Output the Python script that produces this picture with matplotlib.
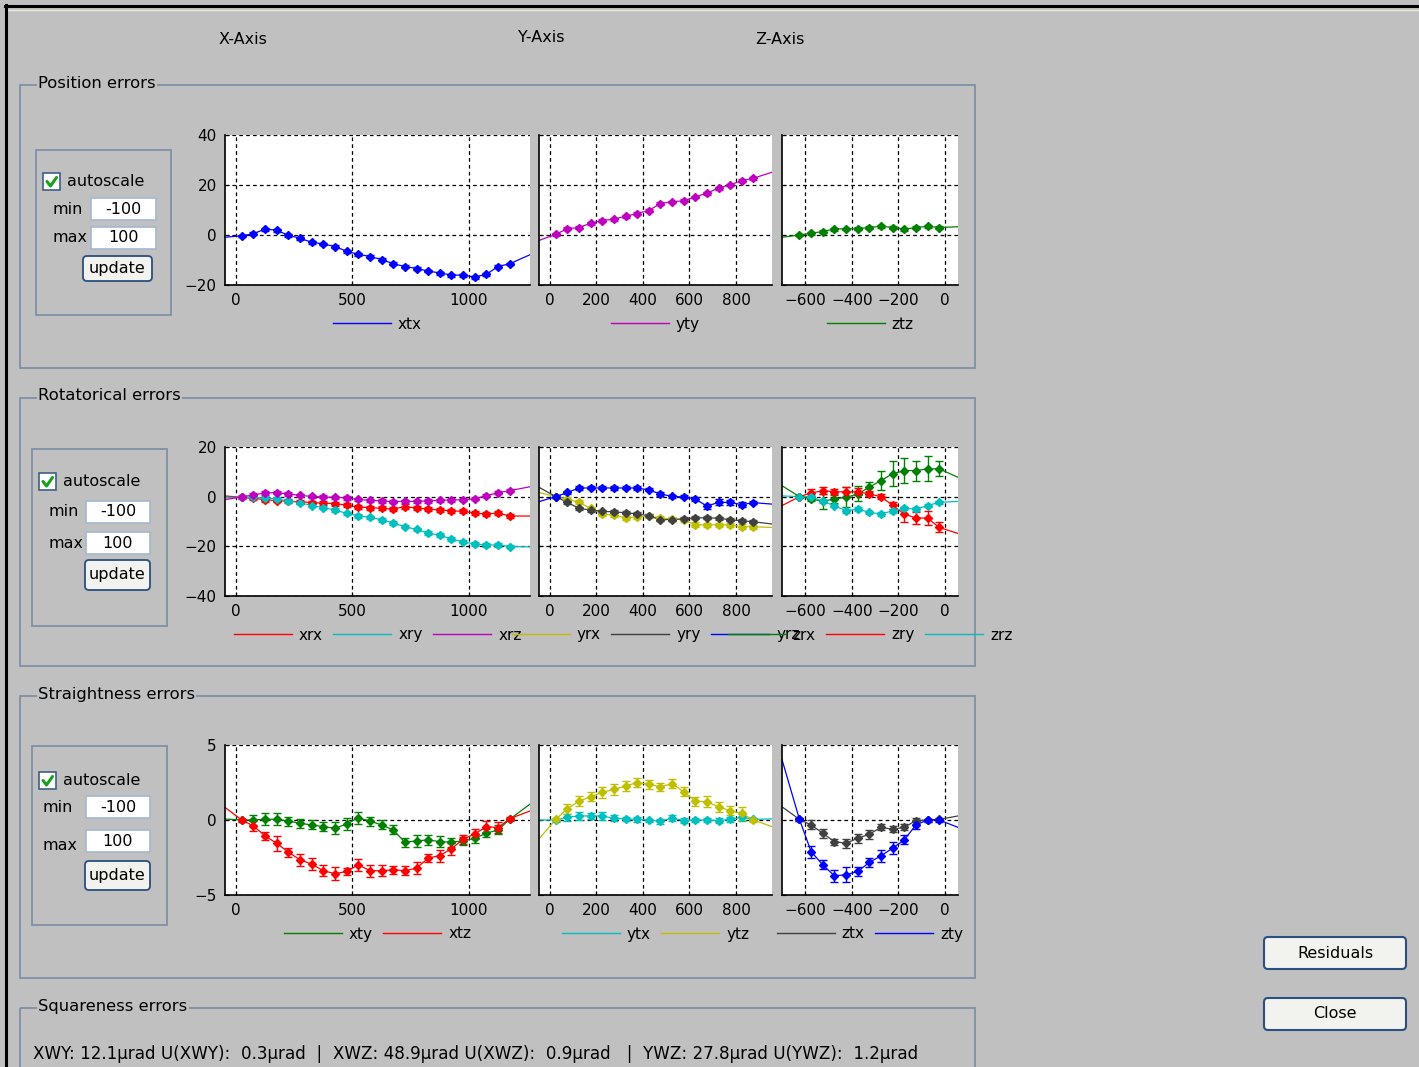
import matplotlib
matplotlib.use('Agg')
import matplotlib.pyplot as plt
from matplotlib.patches import Rectangle, FancyBboxPatch
from matplotlib.lines import Line2D

plt.rcParams['font.family'] = ['DejaVu Sans']

W, H = 1419, 1067
GUI_BG = '#c0c0c0'
FRAME = '#8090a8'

BLUE = '#0000ff'
MAG = '#bf00bf'
GREEN = '#008000'
RED = '#ff0000'
CYAN = '#00bfbf'
YEL = '#bfbf00'
DGRAY = '#404040'

# measurement positions (mm)
x_pos = [25, 75, 125, 175, 225, 275, 325, 375, 425, 475, 525, 575,
         625, 675, 725, 775, 825, 875, 925, 975, 1025, 1075, 1125, 1175]
y_pos = [25, 75, 125, 175, 225, 275, 325, 375, 425, 475, 525, 575,
         625, 675, 725, 775, 825, 875]
z_pos = [-625, -575, -525, -475, -425, -375, -325, -275, -225, -175, -125, -75, -25]

xlim_x = (-47, 1262)
xlim_y = (-47, 955)
xlim_z = (-700, 56)
xticks_x = [0, 500, 1000]
xticks_y = [0, 200, 400, 600, 800]
xticks_z = [-600, -400, -200, 0]

# ---- position errors (um)
xtx = [-0.3, 0.5, 2.4, 1.9, -0.1, -1.3, -2.9, -3.6, -4.6, -6.5, -7.7, -8.6,
       -9.8, -11.5, -12.6, -13.4, -14.4, -15.2, -16.0, -16.1, -16.8, -15.7, -12.6, -11.5]
xtx_err = [0.5, 0.6, 0.6, 0.5, 0.5, 0.6, 0.6, 0.5, 0.6, 0.6, 0.6, 0.5,
           0.6, 0.6, 0.5, 0.6, 0.5, 0.6, 0.6, 0.5, 0.6, 0.6, 0.6, 0.5]
xtx_end = (-0.9, -7.9)
yty = [0.3, 2.5, 3.0, 4.7, 5.8, 6.3, 7.5, 8.6, 9.8, 12.6, 13.3, 13.7,
       15.3, 16.7, 18.8, 20.1, 21.7, 22.7]
yty_err = [0.6, 0.6, 0.5, 0.6, 0.6, 0.5, 0.6, 0.6, 0.6, 0.6, 0.5, 0.6,
           0.5, 0.6, 0.6, 0.5, 0.6, 0.6]
yty_end = (-2.2, 25.1)
ztz = [0.0, 0.7, 1.4, 2.4, 2.5, 2.5, 3.0, 3.5, 3.0, 2.4, 2.9, 3.5, 3.0]
ztz_err = [0.5, 0.6, 0.6, 0.6, 0.5, 0.6, 0.6, 0.6, 0.5, 0.6, 0.6, 0.6, 0.5]
ztz_end = (-0.9, 3.3)

# ---- rotatorical errors (urad)
xrx = [-0.3, -0.7, -1.2, -1.6, -1.9, -2.0, -2.4, -2.6, -2.8, -3.4, -4.2, -4.4,
       -4.7, -5.0, -4.0, -4.6, -5.0, -5.4, -5.7, -5.9, -6.6, -7.0, -6.6, -7.8]
xrx_err = [0.6, 0.8, 0.8, 0.7, 0.8, 0.8, 0.7, 0.8, 0.8, 0.8, 0.9, 0.8,
           0.8, 0.8, 0.9, 0.8, 0.8, 0.9, 0.8, 0.8, 0.9, 0.8, 0.9, 0.8]
xrx_end = (0.3, -7.8)
xry = [-0.3, -0.3, -0.5, -0.9, -1.7, -2.4, -3.6, -4.4, -5.4, -6.7, -7.7, -8.3,
       -9.3, -10.6, -12.1, -13.2, -14.7, -15.5, -17.1, -18.2, -19.0, -19.5, -19.4, -20.1]
xry_err = [0.6, 0.7, 0.7, 0.6, 0.7, 0.7, 0.7, 0.6, 0.7, 0.7, 0.7, 0.6,
           0.7, 0.7, 0.7, 0.6, 0.7, 0.7, 0.7, 0.6, 0.7, 0.7, 0.7, 0.6]
xry_end = (-0.3, -20.2)
xrz = [-0.1, 0.7, 1.5, 1.6, 1.1, 0.5, 0.1, -0.1, -0.3, -0.5, -1.1, -1.5,
       -1.7, -2.0, -1.9, -1.9, -1.7, -1.5, -1.3, -1.3, -0.8, 0.4, 1.6, 2.4]
xrz_err = [0.6, 0.7, 0.7, 0.6, 0.7, 0.7, 0.7, 0.6, 0.7, 0.7, 0.7, 0.6,
           0.7, 0.7, 0.7, 0.6, 0.7, 0.7, 0.7, 0.6, 0.7, 0.7, 0.7, 0.6]
xrz_end = (-1.2, 4.0)

yrx = [0.0, -0.9, -2.3, -4.7, -7.0, -7.5, -8.5, -8.2, -7.8, -8.6, -9.0, -9.4,
       -11.3, -11.4, -11.3, -11.4, -12.1, -12.1]
yrx_err = [0.5, 0.8, 0.8, 0.7, 0.8, 0.8, 0.9, 0.8, 0.7, 0.8, 0.8, 0.8,
           0.9, 0.8, 0.8, 0.8, 0.9, 0.8]
yrx_end = (1.7, -12.4)
yry = [0.0, -2.3, -4.7, -5.4, -5.9, -6.1, -6.5, -6.9, -7.7, -9.3, -9.2, -8.9,
       -8.5, -8.5, -8.7, -9.3, -9.7, -10.1]
yry_err = [0.5, 0.6, 0.6, 0.6, 0.5, 0.6, 0.6, 0.6, 0.6, 0.5, 0.6, 0.6,
           0.6, 0.6, 0.5, 0.6, 0.6, 0.6]
yry_end = (3.8, -11.0)
yrz = [0.0, 1.7, 3.5, 3.5, 3.5, 3.5, 3.5, 3.5, 2.7, 1.1, 0.1, -0.1,
       -0.9, -3.8, -2.3, -2.3, -3.2, -2.4]
yrz_err = [0.5, 0.7, 0.7, 0.6, 0.6, 0.7, 0.6, 0.7, 0.6, 0.7, 0.6, 0.6,
           0.7, 1.0, 1.2, 0.9, 1.0, 0.7]
yrz_end = (-2.0, -3.0)

zrx = [0.0, -0.9, -1.9, -0.9, -0.3, 1.1, 3.8, 6.5, 9.2, 10.5, 10.5, 11.2, 11.2]
zrx_err = [0.5, 1.0, 3.0, 1.5, 4.0, 3.0, 2.0, 4.0, 5.0, 5.0, 4.0, 5.0, 3.0]
zrx_end = (4.4, 7.8)
zry = [0.0, 1.5, 2.4, 2.0, 1.9, 2.0, 1.1, 0.0, -3.5, -7.0, -8.6, -8.6, -12.4]
zry_err = [0.3, 1.5, 1.5, 1.0, 2.0, 1.5, 1.0, 1.0, 1.5, 3.0, 2.5, 3.0, 2.0]
zry_end = (-3.6, -14.8)
zrz = [0.0, 0.0, -1.9, -3.6, -5.7, -5.0, -6.3, -7.0, -5.7, -4.7, -5.0, -3.6, -2.3]
zrz_err = [0.4, 0.7, 0.7, 0.6, 0.7, 0.7, 0.6, 0.7, 0.7, 0.6, 0.7, 0.7, 0.6]
zrz_end = (0.3, -1.9)

# ---- straightness errors (um)
xty = [0.0, 0.0, 0.05, 0.05, -0.07, -0.22, -0.33, -0.44, -0.55, -0.27, 0.15, -0.07,
       -0.33, -0.66, -1.48, -1.39, -1.33, -1.44, -1.48, -1.39, -1.22, -0.88, -0.66, 0.05]
xty_err = [0.1, 0.35, 0.4, 0.4, 0.3, 0.3, 0.3, 0.3, 0.4, 0.4, 0.4, 0.3,
           0.3, 0.3, 0.3, 0.4, 0.35, 0.35, 0.3, 0.25, 0.3, 0.25, 0.3, 0.1]
xty_end = (0.07, 1.06)
xtz = [0.0, -0.4, -1.06, -1.55, -2.15, -2.65, -2.94, -3.38, -3.58, -3.43, -2.99, -3.38,
       -3.38, -3.32, -3.38, -3.21, -2.54, -2.37, -1.92, -1.28, -0.93, -0.44, -0.51, 0.09]
xtz_err = [0.1, 0.35, 0.25, 0.5, 0.3, 0.4, 0.4, 0.35, 0.45, 0.25, 0.4, 0.4,
           0.35, 0.25, 0.3, 0.4, 0.25, 0.4, 0.4, 0.3, 0.35, 0.35, 0.35, 0.1]
xtz_end = (0.84, 0.6)

ytx = [0.0, 0.18, 0.27, 0.27, 0.27, 0.11, 0.07, 0.04, 0.0, -0.09, 0.13, -0.04,
       0.0, 0.0, -0.04, 0.04, 0.18, 0.04]
ytx_err = [0.1, 0.25, 0.25, 0.2, 0.25, 0.2, 0.15, 0.15, 0.1, 0.15, 0.2, 0.15,
           0.15, 0.15, 0.15, 0.15, 0.25, 0.1]
ytx_end = (0.0, 0.07)
ytz = [0.04, 0.75, 1.26, 1.55, 1.84, 2.04, 2.26, 2.5, 2.39, 2.21, 2.43, 1.88,
       1.26, 1.22, 0.88, 0.62, 0.44, 0.0]
ytz_err = [0.1, 0.35, 0.35, 0.3, 0.35, 0.35, 0.35, 0.3, 0.3, 0.25, 0.3, 0.3,
           0.3, 0.35, 0.35, 0.3, 0.45, 0.15]
ytz_end = (-1.26, -0.44)

ztx = [0.04, -0.33, -0.88, -1.44, -1.55, -1.22, -0.95, -0.49, -0.62, -0.49, -0.04, 0.0, 0.04]
ztx_err = [0.1, 0.3, 0.3, 0.2, 0.3, 0.3, 0.3, 0.2, 0.2, 0.2, 0.2, 0.1, 0.1]
ztx_end = (0.88, 0.27)
zty = [0.04, -2.1, -2.99, -3.72, -3.65, -3.43, -2.83, -2.39, -1.88, -1.33, -0.33, 0.0, 0.0]
zty_err = [0.1, 0.4, 0.3, 0.4, 0.5, 0.3, 0.3, 0.4, 0.4, 0.3, 0.3, 0.1, 0.1]
zty_end = (4.03, -0.49)

squareness_text = ('XWY: 12.1\u00b5rad U(XWY):  0.3\u00b5rad  |  XWZ: 48.9\u00b5rad U(XWZ):  0.9\u00b5rad'
                   '   |  YWZ: 27.8\u00b5rad U(YWZ):  1.2\u00b5rad')


def px_rect(l, t, r, b):
    return [l / W, 1 - b / H, (r - l) / W, (b - t) / H]


def style_axes(ax, xlim, xticks, ylim, yticks, ylabels):
    ax.set_facecolor('white')
    ax.set_xlim(xlim)
    ax.set_ylim(ylim)
    ax.set_xticks(xticks)
    ax.set_yticks(yticks)
    if not ylabels:
        ax.set_yticklabels([])
    ax.grid(True, color='black', linestyle=(0, (3, 2.5)), linewidth=0.9)
    ax.spines['top'].set_visible(False)
    ax.spines['right'].set_visible(False)
    for s in ('left', 'bottom'):
        ax.spines[s].set_linewidth(1.2)
    ax.tick_params(direction='in', length=3, labelsize=11, pad=6)


def draw_series(ax, xs, ys, err, ends, xlim, color):
    ax.plot([xlim[0]] + xs + [xlim[1]], [ends[0]] + ys + [ends[1]], color=color, lw=0.9)
    ax.errorbar(xs, ys, yerr=err, fmt='D', ms=3.8, color=color, ecolor=color,
                elinewidth=1, capsize=3, capthick=1)


def add_legend(ax, names, colors, h_px):
    handles = [Line2D([], [], color=c, lw=1) for c in colors]
    ax.legend(handles, names, loc='center', bbox_to_anchor=(0.5, -39 / h_px),
              ncol=len(names), frameon=False, fontsize=11, handlelength=3.8,
              handletextpad=0.45, columnspacing=0.7, borderpad=0, borderaxespad=0)


fig = plt.figure(figsize=(W / 100, H / 100), dpi=100, facecolor=GUI_BG)

# ---------- GUI background layer (pixel coordinates)
bg = fig.add_axes([0, 0, 1, 1])
bg.set_xlim(0, W)
bg.set_ylim(H, 0)
bg.axis('off')
bg.set_zorder(0)

bg.plot([5, W], [6, 6], color='black', lw=2.2)
bg.plot([6, W], [9.5, 9.5], color='#ece9d8', lw=1)
bg.plot([6, 6], [5, H], color='black', lw=2.2)

for label, cx, cy in [('X-Axis', 243, 40), ('Y-Axis', 541, 37), ('Z-Axis', 780, 40)]:
    bg.text(cx, cy, label, ha='center', va='center', fontsize=11.5)

groups = [('Position errors', 85, 368), ('Rotatorical errors', 398, 666),
          ('Straightness errors', 696, 978), ('Squareness errors', 1008, 1100)]
for title, top, bottom in groups:
    bg.add_patch(Rectangle((20, top), 955, bottom - top, fill=False, ec=FRAME, lw=1.3))
    bg.text(38, top - 2, title, ha='left', va='center', fontsize=11.8,
            bbox=dict(fc=GUI_BG, ec='none', pad=1))

bg.text(33, 1054, squareness_text, ha='left', va='center', fontsize=12.1)

# autoscale panels: box, checkbox row, min row, max row, update button
panels = [
    dict(box=(36, 150, 171, 315), chk=(43, 173), lab=(53, 209, 237), fld=(91, 156, 198, 227),
         btn=(83, 256, 152, 281)),
    dict(box=(32, 449, 167, 626), chk=(39, 473), lab=(49, 512, 543), fld=(86, 150, 501, 532),
         btn=(85, 560, 150, 590)),
    dict(box=(32, 746, 167, 925), chk=(39, 772), lab=(43, 807, 845), fld=(86, 150, 796, 830),
         btn=(85, 861, 150, 890)),
]
for p in panels:
    l, t, r, b = p['box']
    bg.add_patch(Rectangle((l, t), r - l, b - t, fill=False, ec=FRAME, lw=1.3))
    cx, cy = p['chk']
    bg.add_patch(Rectangle((cx, cy), 17, 17, fc='white', ec='#3c5f8c', lw=1.2))
    bg.plot([cx + 4, cx + 7.5, cx + 13.5], [cy + 8.5, cy + 13, cy + 4.5], color='#1aa01a', lw=2.2,
            solid_capstyle='round')
    bg.text(cx + 24, cy + 8.5, 'autoscale', ha='left', va='center', fontsize=11.5)
    lx, ymin, ymax = p['lab']
    bg.text(lx, ymin, 'min', ha='left', va='center', fontsize=11.5)
    bg.text(lx, ymax, 'max', ha='left', va='center', fontsize=11.5)
    fl, fr, ft1, ft2 = p['fld']
    for ft, val in [(ft1, '-100'), (ft2, '100')]:
        bg.add_patch(Rectangle((fl, ft), fr - fl, 22, fc='white', ec='#a4b8d0', lw=1.2))
        bg.text((fl + fr) / 2, ft + 11, val, ha='center', va='center', fontsize=11.5)
    bl, bt, br, bb = p['btn']
    bg.add_patch(FancyBboxPatch((bl, bt), br - bl, bb - bt, boxstyle='round,pad=0,rounding_size=4',
                                fc='#f2f2ee', ec='#2a4f80', lw=1.3))
    bg.text((bl + br) / 2, (bt + bb) / 2, 'update', ha='center', va='center', fontsize=11.5)

for label, top in [('Residuals', 937), ('Close', 998)]:
    bg.add_patch(FancyBboxPatch((1264, top), 142, 32, boxstyle='round,pad=0,rounding_size=4',
                                fc='#f2f2ee', ec='#2a4f80', lw=1.5))
    bg.text(1335, top + 16, label, ha='center', va='center', fontsize=11.5)

# ---------- plots
cols = [(225, 530, xlim_x, xticks_x, x_pos), (539, 772, xlim_y, xticks_y, y_pos),
        (782, 958, xlim_z, xticks_z, z_pos)]
rows = [
    (135, 285, (-20, 40), [-20, 0, 20, 40],
     [[('xtx', xtx, xtx_err, xtx_end, BLUE)],
      [('yty', yty, yty_err, yty_end, MAG)],
      [('ztz', ztz, ztz_err, ztz_end, GREEN)]]),
    (447, 596, (-40, 20), [-40, -20, 0, 20],
     [[('xrx', xrx, xrx_err, xrx_end, RED), ('xry', xry, xry_err, xry_end, CYAN),
       ('xrz', xrz, xrz_err, xrz_end, MAG)],
      [('yrx', yrx, yrx_err, yrx_end, YEL), ('yry', yry, yry_err, yry_end, DGRAY),
       ('yrz', yrz, yrz_err, yrz_end, BLUE)],
      [('zrx', zrx, zrx_err, zrx_end, GREEN), ('zry', zry, zry_err, zry_end, RED),
       ('zrz', zrz, zrz_err, zrz_end, CYAN)]]),
    (745, 895, (-5, 5), [-5, 0, 5],
     [[('xty', xty, xty_err, xty_end, GREEN), ('xtz', xtz, xtz_err, xtz_end, RED)],
      [('ytx', ytx, ytx_err, ytx_end, CYAN), ('ytz', ytz, ytz_err, ytz_end, YEL)],
      [('ztx', ztx, ztx_err, ztx_end, DGRAY), ('zty', zty, zty_err, zty_end, BLUE)]]),
]

for top, bottom, ylim, yticks, series_cols in rows:
    for ci, (left, right, xlim, xticks, pos) in enumerate(cols):
        ax = fig.add_axes(px_rect(left, top, right, bottom))
        ax.set_zorder(1)
        style_axes(ax, xlim, xticks, ylim, yticks, ci == 0)
        for name, ys, err, ends, color in series_cols[ci]:
            draw_series(ax, pos, ys, err, ends, xlim, color)
        add_legend(ax, [s[0] for s in series_cols[ci]], [s[4] for s in series_cols[ci]],
                   bottom - top)

fig.savefig('out.png', dpi=100, facecolor=GUI_BG)
